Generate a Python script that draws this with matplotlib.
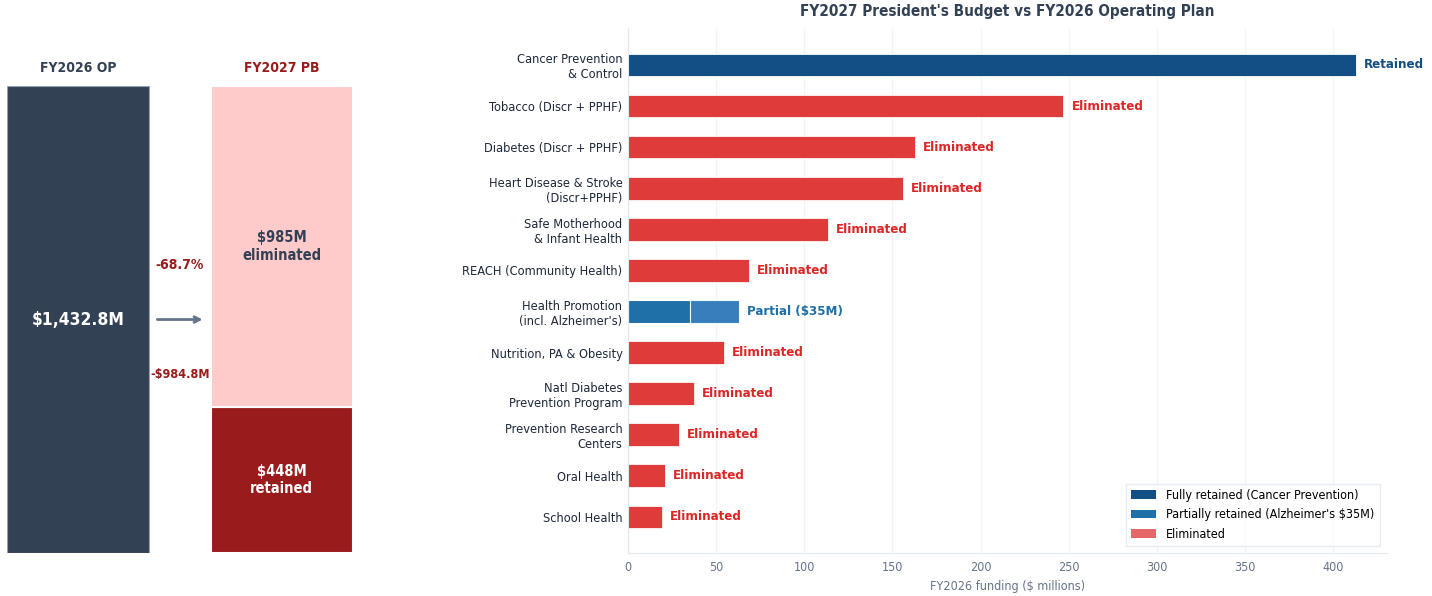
import matplotlib
matplotlib.use("Agg")
import matplotlib.pyplot as plt
from matplotlib.patches import Patch

plt.rcParams['font.family'] = ['DejaVu Sans']
plt.rcParams['font.stretch'] = 'condensed'

# --- Data
total_op = 1432.8
retained = 448.0
eliminated = 984.8

programs = ["Cancer Prevention\n& Control", "Tobacco (Discr + PPHF)",
            "Diabetes (Discr + PPHF)", "Heart Disease & Stroke\n(Discr+PPHF)",
            "Safe Motherhood\n& Infant Health", "REACH (Community Health)",
            "Health Promotion\n(incl. Alzheimer's)", "Nutrition, PA & Obesity",
            "Natl Diabetes\nPrevention Program", "Prevention Research\nCenters",
            "Oral Health", "School Health"]
funding = [413.0, 247.0, 163.0, 156.0, 113.5, 68.7, 63.0, 54.5, 37.4, 28.9, 21.0, 19.3]
status = ["retained", "eliminated", "eliminated", "eliminated", "eliminated", "eliminated",
          "partial", "eliminated", "eliminated", "eliminated", "eliminated", "eliminated"]
partial_kept = 35.0

# --- Colors
SLATE = "#334155"
PINK = "#fecaca"
DARKRED = "#991b1b"
RED = "#dc2626"
NAVY = "#134f85"
BLUE = "#1f6fa8"
BLUE2 = "#2171b5"
MUTED = "#64748b"

fig = plt.figure(figsize=(14.32, 5.96), dpi=100)

# --- Left panel: stacked comparison
ax1 = fig.add_axes([0.0049, 0.0721, 0.2416, 0.7836])
ax1.bar(0, total_op, width=0.7, color=SLATE, edgecolor="#94a3b8", linewidth=0.8)
ax1.bar(1, retained, width=0.7, color=DARKRED, edgecolor="white", linewidth=1.5)
ax1.bar(1, eliminated, width=0.7, bottom=retained, color=PINK, edgecolor="white", linewidth=1.5)
ax1.set_xlim(-0.35, 1.35)
ax1.set_ylim(0, total_op)
ax1.axis("off")

ax1.text(0, total_op * 1.038, "FY2026 OP", ha="center", va="center", fontsize=10,
         fontweight="bold", color=SLATE)
ax1.text(1, total_op * 1.038, "FY2027 PB", ha="center", va="center", fontsize=10,
         fontweight="bold", color=DARKRED)
ax1.text(0, total_op / 2, f"${total_op:,.1f}M", ha="center", va="center", fontsize=12.5,
         fontweight="bold", color="white")
ax1.text(1, retained + eliminated / 2, f"${eliminated:.0f}M\neliminated", ha="center",
         va="center", fontsize=10.5, fontweight="bold", color=SLATE)
ax1.text(1, retained / 2, f"${retained:.0f}M\nretained", ha="center", va="center",
         fontsize=10.5, fontweight="bold", color="white")
ax1.annotate("", xy=(0.625, total_op / 2), xytext=(0.375, total_op / 2),
             arrowprops=dict(arrowstyle="->", color=MUTED, lw=2))
ax1.text(0.5, total_op * 0.617, f"-{eliminated / total_op * 100:.1f}%", ha="center",
         va="center", fontsize=10, fontweight="bold", color=DARKRED)
ax1.text(0.5, total_op * 0.383, f"-${eliminated:.1f}M", ha="center", va="center",
         fontsize=9, fontweight="bold", color=DARKRED)

# --- Right panel: program bars
ax2 = fig.add_axes([0.4385, 0.0721, 0.5301, 0.8809])
ys = list(range(len(programs)))
for y, val, st in zip(ys, funding, status):
    if st == "retained":
        ax2.barh(y, val, height=0.55, color=NAVY, edgecolor="white", linewidth=0.6)
        ax2.text(val + 4.5, y, "Retained", va="center", ha="left", fontsize=9.5,
                 fontweight="bold", color=NAVY)
    elif st == "partial":
        ax2.barh(y, partial_kept, height=0.55, color=BLUE, edgecolor="white", linewidth=0.8)
        ax2.barh(y, val - partial_kept, left=partial_kept, height=0.55, color=BLUE2,
                 alpha=0.9, edgecolor="white", linewidth=0.8)
        ax2.text(val + 4.5, y, f"Partial (${partial_kept:.0f}M)", va="center", ha="left",
                 fontsize=9.5, fontweight="bold", color=BLUE)
    else:
        ax2.barh(y, val, height=0.55, color=RED, alpha=0.9, edgecolor="white", linewidth=0.6)
        ax2.text(val + 4.5, y, "Eliminated", va="center", ha="left", fontsize=9.5,
                 fontweight="bold", color=RED)

ax2.set_yticks(ys)
ax2.set_yticklabels(programs, fontsize=9.2, color="#1e293b")
ax2.set_ylim(11.88, -0.9)
ax2.set_xlim(0, 430.5)
ax2.tick_params(axis="y", length=0, pad=4)
ax2.tick_params(axis="x", length=0, labelsize=9, labelcolor=MUTED, pad=6)
ax2.set_xlabel("FY2026 funding ($ millions)", fontsize=9, color=MUTED)
ax2.set_title("FY2027 President's Budget vs FY2026 Operating Plan", fontsize=11,
              fontweight="bold", color=SLATE, pad=9)
ax2.grid(axis="x", color="#f1f5f9", linewidth=1)
ax2.set_axisbelow(True)
for s in ["top", "right"]:
    ax2.spines[s].set_visible(False)
for s in ["left", "bottom"]:
    ax2.spines[s].set_color("#e2e8f0")

handles = [Patch(facecolor=NAVY, label="Fully retained (Cancer Prevention)"),
           Patch(facecolor=BLUE, label="Partially retained (Alzheimer's $35M)"),
           Patch(facecolor=RED, alpha=0.7, label="Eliminated")]
leg = ax2.legend(handles=handles, loc="lower right", fontsize=9, frameon=True,
                 fancybox=False, edgecolor="#e2e8f0", borderaxespad=0.6)
leg.get_frame().set_linewidth(1)

fig.savefig("out.png", dpi=100)
